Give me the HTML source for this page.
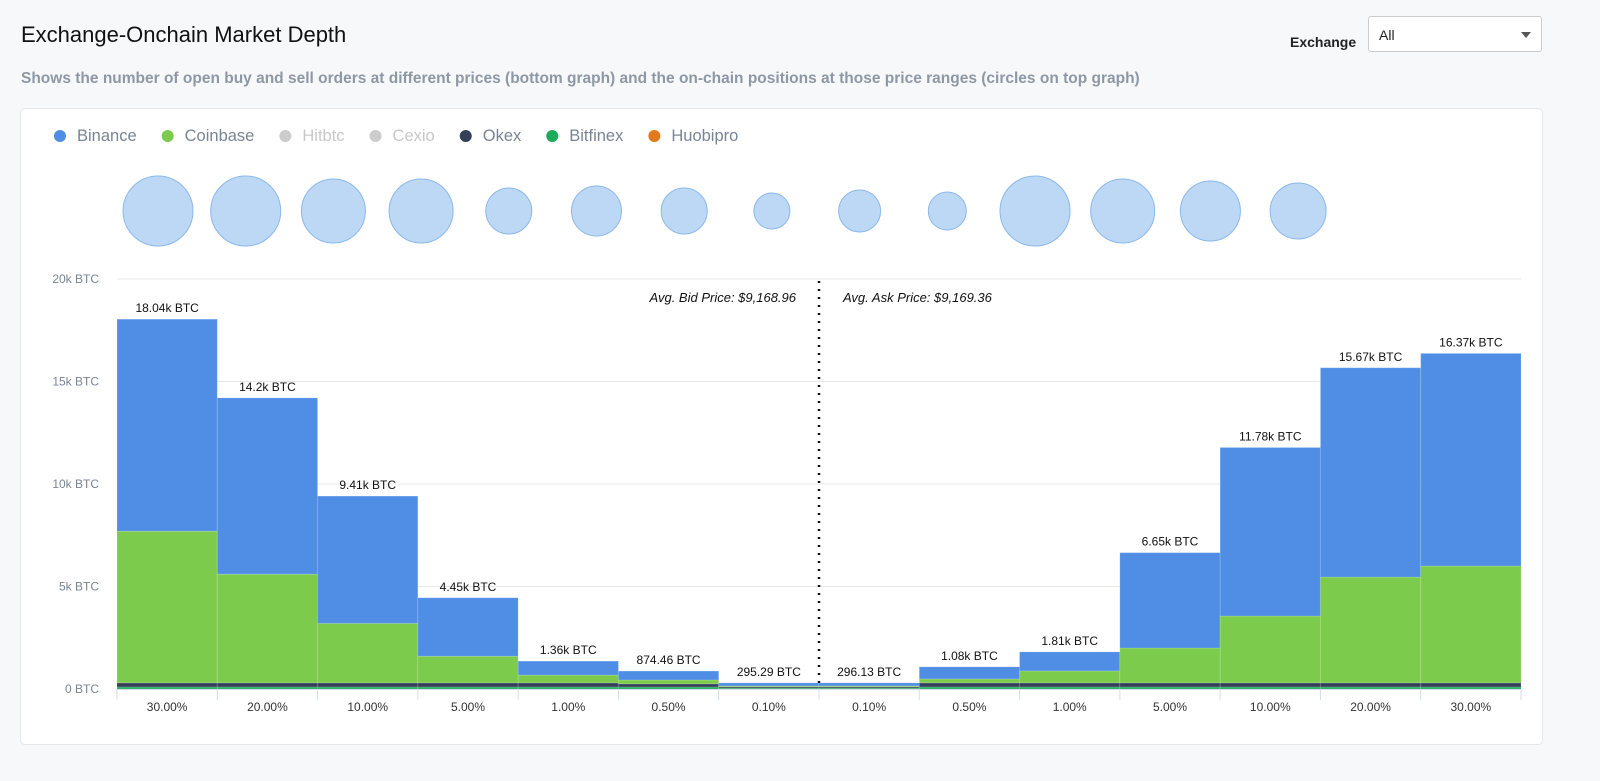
<!DOCTYPE html>
<html><head><meta charset="utf-8"><style>
body{margin:0;width:1600px;height:781px;background:#f7f8fa;font-family:"Liberation Sans",sans-serif;overflow:hidden;position:relative}
.title{position:absolute;left:21px;top:22px;font-size:22px;color:#111}
.sub{position:absolute;left:21px;top:70px;font-size:15.5px;font-weight:bold;color:#8e98a4}
.exl{position:absolute;left:1290px;top:34px;font-size:14px;font-weight:bold;color:#222}
.sel{position:absolute;left:1368px;top:16px;width:174px;height:36px;border:1px solid #ccc;background:#fff;border-radius:3px;box-sizing:border-box;font-size:14px;padding:10px 10px;color:#222}
.sel:after{content:"";position:absolute;right:10px;top:15px;border:5px solid transparent;border-top:6px solid #555}
.card{position:absolute;left:20px;top:108px;width:1523px;height:637px;background:#fff;border:1px solid #e3e6ea;border-radius:5px;box-sizing:border-box}
svg{position:absolute;left:0;top:0}
</style></head><body>
<div class="title">Exchange-Onchain Market Depth</div>
<div class="sub">Shows the number of open buy and sell orders at different prices (bottom graph) and the on-chain positions at those price ranges (circles on top graph)</div>
<div class="exl">Exchange</div>
<div class="sel">All</div>
<div class="card"></div>
<svg id="c" width="1600" height="781"></svg>
<script>
const categories=["30.00%","20.00%","10.00%","5.00%","1.00%","0.50%","0.10%","0.10%","0.50%","1.00%","5.00%","10.00%","20.00%","30.00%"];
const totals=[18040,14200,9410,4450,1360,874.46,295.29,296.13,1080,1810,6650,11780,15670,16370];
const totalLabels=["18.04k BTC","14.2k BTC","9.41k BTC","4.45k BTC","1.36k BTC","874.46 BTC","295.29 BTC","296.13 BTC","1.08k BTC","1.81k BTC","6.65k BTC","11.78k BTC","15.67k BTC","16.37k BTC"];
const bitfinex=[100,100,100,100,100,100,40,40,100,100,100,100,100,100];
const okex=[200,200,200,200,200,150,60,60,200,200,200,200,200,200];
const coinbase=[7400,5300,2900,1300,380,190,50,50,190,580,1700,3260,5160,5700];
const circleSizes=[35,35,32,32,23,25,23,18,21,19,35,32,30,28];
const yTicks=[0,5000,10000,15000,20000];
const yTickLabels=["0 BTC","5k BTC","10k BTC","15k BTC","20k BTC"];
const legendNames=["Binance","Coinbase","Hitbtc","Cexio","Okex","Bitfinex","Huobipro"];
const legendColors=["#4f8ee4","#7ccb4c","#ccc","#ccc","#34405a","#1daa5a","#e27a1c"];
const svg=document.getElementById('c');const NS="http://www.w3.org/2000/svg";
function mk(t,a,p){const e=document.createElementNS(NS,t);for(const k in a)e.setAttribute(k,a[k]);(p||svg).appendChild(e);return e;}
const X0=117,X1=1521,Y0=689,Y1=279;
const bw=(X1-X0)/categories.length;
const x=i=>X0+i*bw;const y=v=>Y0-(v/20000)*(Y0-Y1);
const cxs=i=>158+i*87.7;
// legend
let lx=60;
legendNames.forEach((n,i)=>{const g=mk('g',{});


mk('circle',{cx:lx,cy:136,r:6,fill:legendColors[i]},g);
const t=mk('text',{x:lx+17,y:141,'font-size':16.5,fill:(i==2||i==3)?'#c8c8c8':'#7a8593'},g);t.textContent=n;
lx+=17+t.getComputedTextLength()+31;});
// grid
yTicks.forEach((v,i)=>{if(v>0){const l=mk('line',{x1:X0,x2:X1,y1:y(v),y2:y(v),stroke:'#e8e8e8'});}
const t=mk('text',{x:99,y:y(v)+4,'text-anchor':'end','font-size':12,fill:'#7a8593'});t.textContent=yTickLabels[i];
});
// circles
circleSizes.forEach((r,i)=>{const c=mk('circle',{cx:cxs(i),cy:211,r:r,fill:'#bcd8f5',stroke:'#8cb8ea'});
});
// bars
categories.forEach((c,i)=>{
 const layers=[[0,bitfinex[i],'#1daa5a'],[bitfinex[i],okex[i],'#34405a'],[bitfinex[i]+okex[i],coinbase[i],'#7ccb4c']];
 const base=bitfinex[i]+okex[i]+coinbase[i];layers.push([base,totals[i]-base,'#4f8ee4']);
 layers.forEach(L=>{const r=mk('rect',{x:x(i),y:y(L[0]+L[1]),width:bw,height:y(L[0])-y(L[0]+L[1]),fill:L[2],stroke:'rgba(255,255,255,0.15)','stroke-width':1});
 });
 const t=mk('text',{x:x(i)+bw/2,y:y(totals[i])-7,'text-anchor':'middle','font-size':12,fill:'#111'});t.textContent=totalLabels[i];
 
 const tl=mk('text',{x:x(i)+bw/2,y:711,'text-anchor':'middle','font-size':12,fill:'#333'});tl.textContent=c;
 
 mk('line',{x1:x(i),x2:x(i),y1:Y0,y2:700,stroke:'#d4dcea'});
});
mk('line',{x1:X1,x2:X1,y1:Y0,y2:700,stroke:'#d4dcea'});
mk('line',{x1:X0,x2:X1,y1:Y0+0.5,y2:Y0+0.5,stroke:'#d4dcea'});
const mid=mk('line',{x1:819,x2:819,y1:281,y2:689,stroke:'#111','stroke-width':2.5,'stroke-dasharray':'2,6'});

const b=mk('text',{x:796,y:302,'text-anchor':'end','font-size':13,'font-style':'italic',fill:'#111'});b.textContent='Avg. Bid Price: $9,168.96';

const a=mk('text',{x:843,y:302,'font-size':13,'font-style':'italic',fill:'#111'});a.textContent='Avg. Ask Price: $9,169.36';

</script></body></html>
